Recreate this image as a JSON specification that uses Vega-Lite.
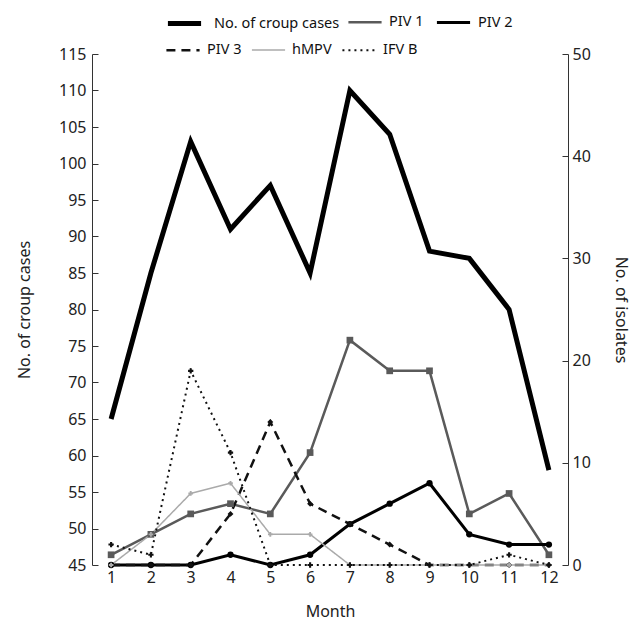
{
  "$schema": "https://vega.github.io/schema/vega-lite/v6.json",
  "width": 476,
  "height": 511,
  "padding": {"left": 16, "top": 4, "right": 4, "bottom": 3},
  "background": "white",
  "config": {
    "view": {"stroke": null},
    "font": "Noto Sans",
    "axis": {"labelFont": "Noto Sans", "titleFont": "Noto Sans", "labelFontSize": 16, "titleFontSize": 16, "labelColor": "#222", "titleColor": "#222", "titleFontWeight": "normal", "domainColor": "#333", "tickColor": "#333", "grid": false},
    "legend": {"labelFont": "Noto Sans", "labelFontSize": 14.5, "labelColor": "#111", "title": null, "orient": "none", "direction": "horizontal", "symbolType": "stroke", "symbolSize": 1100, "columnPadding": 6, "labelOffset": 6}
  },
  "datasets": {
    "croup": [
      {"month": 1, "series": "No. of croup cases", "cases": 65},
      {"month": 2, "series": "No. of croup cases", "cases": 85},
      {"month": 3, "series": "No. of croup cases", "cases": 103},
      {"month": 4, "series": "No. of croup cases", "cases": 91},
      {"month": 5, "series": "No. of croup cases", "cases": 97},
      {"month": 6, "series": "No. of croup cases", "cases": 85},
      {"month": 7, "series": "No. of croup cases", "cases": 110},
      {"month": 8, "series": "No. of croup cases", "cases": 104},
      {"month": 9, "series": "No. of croup cases", "cases": 88},
      {"month": 10, "series": "No. of croup cases", "cases": 87},
      {"month": 11, "series": "No. of croup cases", "cases": 80},
      {"month": 12, "series": "No. of croup cases", "cases": 58}
    ],
    "isolates": [
      {"month": 1, "series": "PIV 1", "n": 1},
      {"month": 2, "series": "PIV 1", "n": 3},
      {"month": 3, "series": "PIV 1", "n": 5},
      {"month": 4, "series": "PIV 1", "n": 6},
      {"month": 5, "series": "PIV 1", "n": 5},
      {"month": 6, "series": "PIV 1", "n": 11},
      {"month": 7, "series": "PIV 1", "n": 22},
      {"month": 8, "series": "PIV 1", "n": 19},
      {"month": 9, "series": "PIV 1", "n": 19},
      {"month": 10, "series": "PIV 1", "n": 5},
      {"month": 11, "series": "PIV 1", "n": 7},
      {"month": 12, "series": "PIV 1", "n": 1},
      {"month": 1, "series": "PIV 2", "n": 0},
      {"month": 2, "series": "PIV 2", "n": 0},
      {"month": 3, "series": "PIV 2", "n": 0},
      {"month": 4, "series": "PIV 2", "n": 1},
      {"month": 5, "series": "PIV 2", "n": 0},
      {"month": 6, "series": "PIV 2", "n": 1},
      {"month": 7, "series": "PIV 2", "n": 4},
      {"month": 8, "series": "PIV 2", "n": 6},
      {"month": 9, "series": "PIV 2", "n": 8},
      {"month": 10, "series": "PIV 2", "n": 3},
      {"month": 11, "series": "PIV 2", "n": 2},
      {"month": 12, "series": "PIV 2", "n": 2},
      {"month": 1, "series": "PIV 3", "n": 0},
      {"month": 2, "series": "PIV 3", "n": 0},
      {"month": 3, "series": "PIV 3", "n": 0},
      {"month": 4, "series": "PIV 3", "n": 5},
      {"month": 5, "series": "PIV 3", "n": 14},
      {"month": 6, "series": "PIV 3", "n": 6},
      {"month": 7, "series": "PIV 3", "n": 4},
      {"month": 8, "series": "PIV 3", "n": 2},
      {"month": 9, "series": "PIV 3", "n": 0},
      {"month": 10, "series": "PIV 3", "n": 0},
      {"month": 11, "series": "PIV 3", "n": 0},
      {"month": 12, "series": "PIV 3", "n": 0},
      {"month": 1, "series": "hMPV", "n": 0},
      {"month": 2, "series": "hMPV", "n": 3},
      {"month": 3, "series": "hMPV", "n": 7},
      {"month": 4, "series": "hMPV", "n": 8},
      {"month": 5, "series": "hMPV", "n": 3},
      {"month": 6, "series": "hMPV", "n": 3},
      {"month": 7, "series": "hMPV", "n": 0},
      {"month": 8, "series": "hMPV", "n": 0},
      {"month": 9, "series": "hMPV", "n": 0},
      {"month": 10, "series": "hMPV", "n": 0},
      {"month": 11, "series": "hMPV", "n": 0},
      {"month": 12, "series": "hMPV", "n": 0},
      {"month": 1, "series": "IFV B", "n": 2},
      {"month": 2, "series": "IFV B", "n": 1},
      {"month": 3, "series": "IFV B", "n": 19},
      {"month": 4, "series": "IFV B", "n": 11},
      {"month": 5, "series": "IFV B", "n": 0},
      {"month": 6, "series": "IFV B", "n": 0},
      {"month": 7, "series": "IFV B", "n": 0},
      {"month": 8, "series": "IFV B", "n": 0},
      {"month": 9, "series": "IFV B", "n": 0},
      {"month": 10, "series": "IFV B", "n": 0},
      {"month": 11, "series": "IFV B", "n": 1},
      {"month": 12, "series": "IFV B", "n": 0}
    ]
  },
  "encoding": {
    "x": {"field": "month", "type": "ordinal", "scale": {"type": "point", "padding": 0.48}, "axis": {"title": "Month", "labelAngle": 0, "domain": false, "ticks": false, "labelPadding": 4, "titlePadding": 18}}
  },
  "layer": [
    {
      "data": {"name": "croup"},
      "mark": {"type": "line", "strokeCap": "butt", "strokeWidth": 5},
      "encoding": {
        "y": {"field": "cases", "type": "quantitative", "scale": {"domain": [45, 115]}, "axis": {"orient": "left", "title": "No. of croup cases", "values": [45, 50, 55, 60, 65, 70, 75, 80, 85, 90, 95, 100, 105, 110, 115], "tickSize": -6, "labelPadding": 12, "titlePadding": 26}},
        "color": {"field": "series", "type": "nominal", "scale": {"domain": ["No. of croup cases"], "range": ["#000000"]}, "legend": {"legendX": 73, "legendY": -50, "labelOffset": 10, "symbolStrokeWidth": 5}}
      }
    },
    {
      "layer": [
        {
          "data": {"name": "isolates"},
          "transform": [{"filter": {"field": "series", "oneOf": ["PIV 1", "PIV 2"]}}],
          "mark": {"type": "line"},
          "encoding": {
            "y": {"field": "n", "type": "quantitative", "scale": {"domain": [0, 50]}, "axis": {"orient": "right", "title": "No. of isolates", "values": [0, 10, 20, 30, 40, 50], "tickSize": -6, "labelPadding": 10, "titlePadding": 22, "titleAngle": 90}},
            "color": {"field": "series", "type": "nominal", "scale": {"domain": ["PIV 1", "PIV 2"], "range": ["#5a5a5a", "#000000"]}, "legend": {"legendX": 255, "legendY": -50}},
            "strokeWidth": {"field": "series", "type": "nominal", "scale": {"type": "ordinal", "domain": ["PIV 1", "PIV 2"], "range": [2.5, 3]}, "legend": {"legendX": 255, "legendY": -50}}
          }
        },
        {
          "data": {"name": "isolates"},
          "transform": [{"filter": {"field": "series", "oneOf": ["PIV 3", "hMPV", "IFV B"]}}],
          "mark": {"type": "line"},
          "encoding": {
            "y": {"field": "n", "type": "quantitative", "scale": {"domain": [0, 50]}},
            "color": {"field": "series", "type": "nominal", "scale": {"domain": ["PIV 3", "hMPV", "IFV B"], "range": ["#111111", "#aaaaaa", "#111111"]}, "legend": {"legendX": 73, "legendY": -22}},
            "strokeDash": {"field": "series", "type": "nominal", "scale": {"domain": ["PIV 3", "hMPV", "IFV B"], "range": [[9, 6], [1, 0], [2, 4]]}, "legend": {"legendX": 73, "legendY": -22}},
            "strokeWidth": {"field": "series", "type": "nominal", "scale": {"type": "ordinal", "domain": ["PIV 3", "hMPV", "IFV B"], "range": [2.5, 1.5, 2]}, "legend": {"legendX": 73, "legendY": -22}}
          }
        },
        {
          "data": {"name": "isolates"},
          "mark": {"type": "point", "filled": true, "opacity": 1, "strokeWidth": 0},
          "encoding": {
            "y": {"field": "n", "type": "quantitative", "scale": {"domain": [0, 50]}},
            "fill": {"field": "series", "type": "nominal", "scale": {"domain": ["PIV 1", "PIV 2", "PIV 3", "hMPV", "IFV B"], "range": ["#5a5a5a", "#000000", "#111111", "#aaaaaa", "#111111"]}, "legend": null},
            "shape": {"field": "series", "type": "nominal", "scale": {"domain": ["PIV 1", "PIV 2", "PIV 3", "hMPV", "IFV B"], "range": ["square", "circle", "diamond", "cross", "cross"]}, "legend": null},
            "size": {"field": "series", "type": "nominal", "scale": {"type": "ordinal", "domain": ["PIV 1", "PIV 2", "PIV 3", "hMPV", "IFV B"], "range": [45, 40, 35, 22, 28]}, "legend": null}
          }
        }
      ],
      "resolve": {"scale": {"color": "independent", "strokeWidth": "independent", "strokeDash": "independent"}}
    }
  ],
  "resolve": {"scale": {"y": "independent", "color": "independent", "strokeWidth": "independent", "strokeDash": "independent"}}
}
